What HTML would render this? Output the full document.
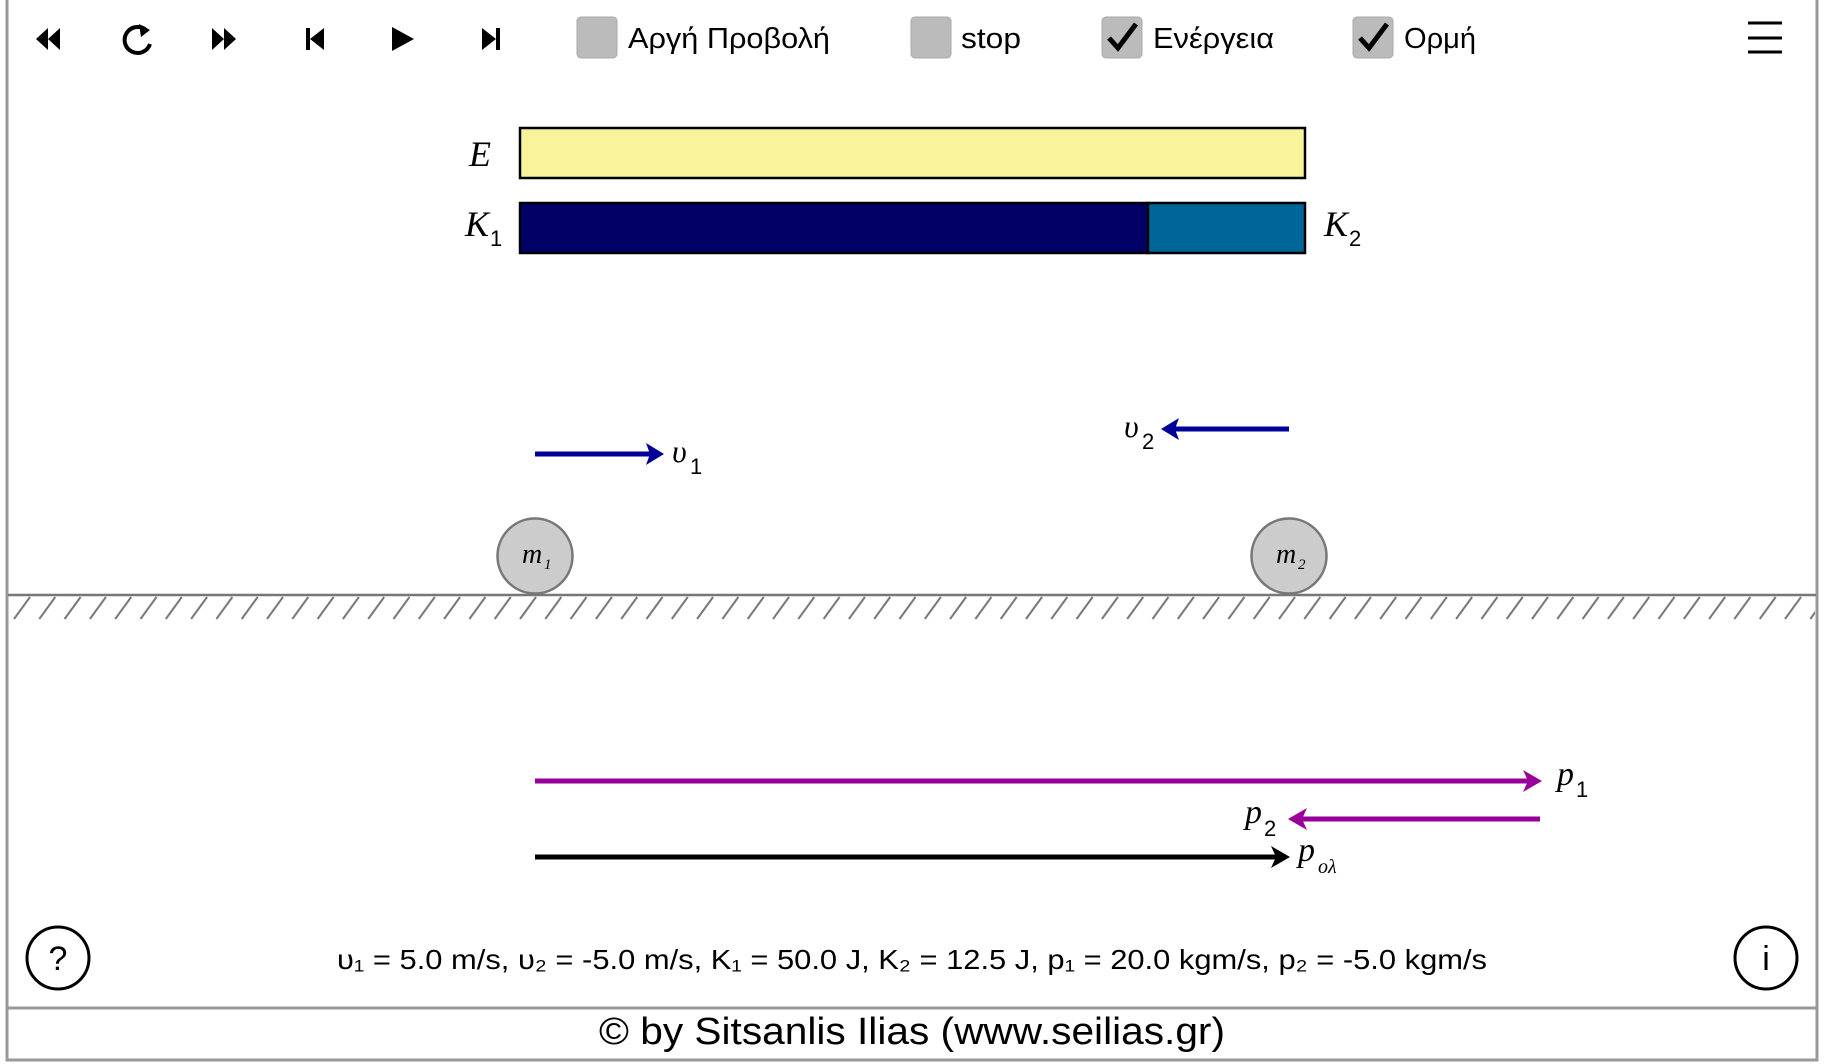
<!DOCTYPE html>
<html><head><meta charset="utf-8"><style>
html,body{margin:0;padding:0;background:#fff;}
svg{display:block;}
.ui{font-family:"Liberation Sans","DejaVu Sans",sans-serif;}
.m{font-family:"Liberation Serif",serif;font-style:italic;}
</style></head><body>
<svg width="1824" height="1064" viewBox="0 0 1824 1064" xmlns="http://www.w3.org/2000/svg">
<defs>
<pattern id="h" x="8" y="596" width="25.3" height="24" patternUnits="userSpaceOnUse">
<line x1="6" y1="23" x2="22" y2="1" stroke="#777" stroke-width="2"/>
</pattern>
</defs>
<rect x="0" y="0" width="1824" height="1064" fill="#fff"/>
<rect x="7" y="-2" width="1810" height="1062" fill="none" stroke="#999" stroke-width="3"/>
<line x1="7" y1="1008" x2="1817" y2="1008" stroke="#999" stroke-width="3"/>
<g fill="#000">
<polygon points="48,28 48,50 36,39"/><polygon points="60,28 60,50 48,39"/>
<polygon points="212,28 212,50 224,39"/><polygon points="224,28 224,50 236,39"/>
<rect x="306" y="28" width="4" height="22"/><polygon points="324,28 324,50 310,39"/>
<polygon points="392,27 392,51 414,39"/>
<polygon points="482,28 482,50 496,39"/><rect x="496" y="28" width="4" height="22"/>
</g>
<path d="M146,30 A13,13 0 1 0 150,44" fill="none" stroke="#000" stroke-width="4"/>
<polygon points="139,24 150,30 141,37" fill="#000"/>
<g class="ui" font-size="29" fill="#000">
<rect x="577" y="17" width="40" height="41" rx="4" fill="#bbb" stroke="#aaa"/>
<text x="628" y="48" textLength="202" lengthAdjust="spacingAndGlyphs">Αργή Προβολή</text>
<rect x="911" y="17" width="40" height="41" rx="4" fill="#bbb" stroke="#aaa"/>
<text x="961" y="48" textLength="60" lengthAdjust="spacingAndGlyphs">stop</text>
<rect x="1102" y="17" width="40" height="41" rx="4" fill="#bbb" stroke="#aaa"/>
<path d="M1109,38 L1118,48 L1136,24" fill="none" stroke="#000" stroke-width="5"/>
<text x="1153" y="48" textLength="121" lengthAdjust="spacingAndGlyphs">Ενέργεια</text>
<rect x="1353" y="17" width="40" height="41" rx="4" fill="#bbb" stroke="#aaa"/>
<path d="M1360,38 L1369,48 L1387,24" fill="none" stroke="#000" stroke-width="5"/>
<text x="1404" y="48" textLength="72" lengthAdjust="spacingAndGlyphs">Ορμή</text>
</g>
<g stroke="#000" stroke-width="3"><line x1="1748" y1="23" x2="1782" y2="23"/><line x1="1748" y1="38" x2="1782" y2="38"/><line x1="1748" y1="52" x2="1782" y2="52"/></g>
<rect x="520" y="128" width="785" height="50" fill="#f9f49c" stroke="#000" stroke-width="2.5"/>
<rect x="520" y="203" width="628" height="50" fill="#000066" stroke="#000" stroke-width="2.5"/>
<rect x="1148" y="203" width="157" height="50" fill="#006699" stroke="#000" stroke-width="2.5"/>
<g class="m" font-size="36" fill="#000">
<text x="469" y="166">E</text>
<text x="465" y="236">K</text><text x="490" y="246" class="ui" font-style="normal" font-size="22">1</text>
<text x="1324" y="236">K</text><text x="1349" y="246" class="ui" font-style="normal" font-size="22">2</text>
</g>
<line x1="535" y1="454" x2="650" y2="454" stroke="#000099" stroke-width="5"/>
<polygon points="664,454 646,443 650,454 646,465" fill="#000099"/>
<text x="672" y="462" class="m" font-size="32">υ</text><text x="690" y="474" class="ui" font-size="22">1</text>
<line x1="1175" y1="429" x2="1289" y2="429" stroke="#000099" stroke-width="5"/>
<polygon points="1161,429 1179,418 1175,429 1179,440" fill="#000099"/>
<text x="1124" y="437" class="m" font-size="32">υ</text><text x="1142" y="449" class="ui" font-size="22">2</text>
<rect x="9" y="596" width="1806" height="24" fill="url(#h)"/>
<line x1="8" y1="595" x2="1816" y2="595" stroke="#777" stroke-width="2.5"/>
<circle cx="535" cy="556" r="37.5" fill="#ccc" stroke="#777" stroke-width="2.5"/>
<circle cx="1289" cy="556" r="37.5" fill="#ccc" stroke="#777" stroke-width="2.5"/>
<text x="522" y="563" class="m" font-size="28">m</text><text x="544" y="569" class="m" font-style="normal" font-size="15">1</text>
<text x="1276" y="563" class="m" font-size="28">m</text><text x="1298" y="569" class="m" font-style="normal" font-size="15">2</text>
<line x1="535" y1="781" x2="1528" y2="781" stroke="#990099" stroke-width="5"/>
<polygon points="1542,781 1523,770 1528,781 1523,792" fill="#990099"/>
<text x="1557" y="785" class="m" font-size="34">p</text><text x="1576" y="797" class="ui" font-size="22">1</text>
<line x1="1302" y1="819" x2="1540" y2="819" stroke="#990099" stroke-width="5"/>
<polygon points="1288,819 1307,808 1302,819 1307,830" fill="#990099"/>
<text x="1245" y="823" class="m" font-size="34">p</text><text x="1264" y="836" class="ui" font-size="22">2</text>
<line x1="535" y1="857" x2="1276" y2="857" stroke="#000" stroke-width="5"/>
<polygon points="1290,857 1271,846 1276,857 1271,868" fill="#000"/>
<text x="1298" y="861" class="m" font-size="34">p</text><text x="1318" y="873" class="m" font-style="normal" font-size="20">ολ</text>
<circle cx="58" cy="958" r="31" fill="none" stroke="#000" stroke-width="3"/>
<text x="58" y="970" class="ui" font-size="34" text-anchor="middle">?</text>
<circle cx="1766" cy="958" r="31" fill="none" stroke="#000" stroke-width="3"/>
<text x="1766" y="970" class="ui" font-size="34" text-anchor="middle">i</text>
<text x="337" y="969" class="ui" font-size="28" textLength="1150" lengthAdjust="spacingAndGlyphs">υ₁ = 5.0 m/s, υ₂ = -5.0 m/s, K₁ = 50.0 J, K₂ = 12.5 J, p₁ = 20.0 kgm/s, p₂ = -5.0 kgm/s</text>
<text x="599" y="1044" class="ui" font-size="38" textLength="626" lengthAdjust="spacingAndGlyphs">© by Sitsanlis Ilias (www.seilias.gr)</text>
</svg>
</body></html>
